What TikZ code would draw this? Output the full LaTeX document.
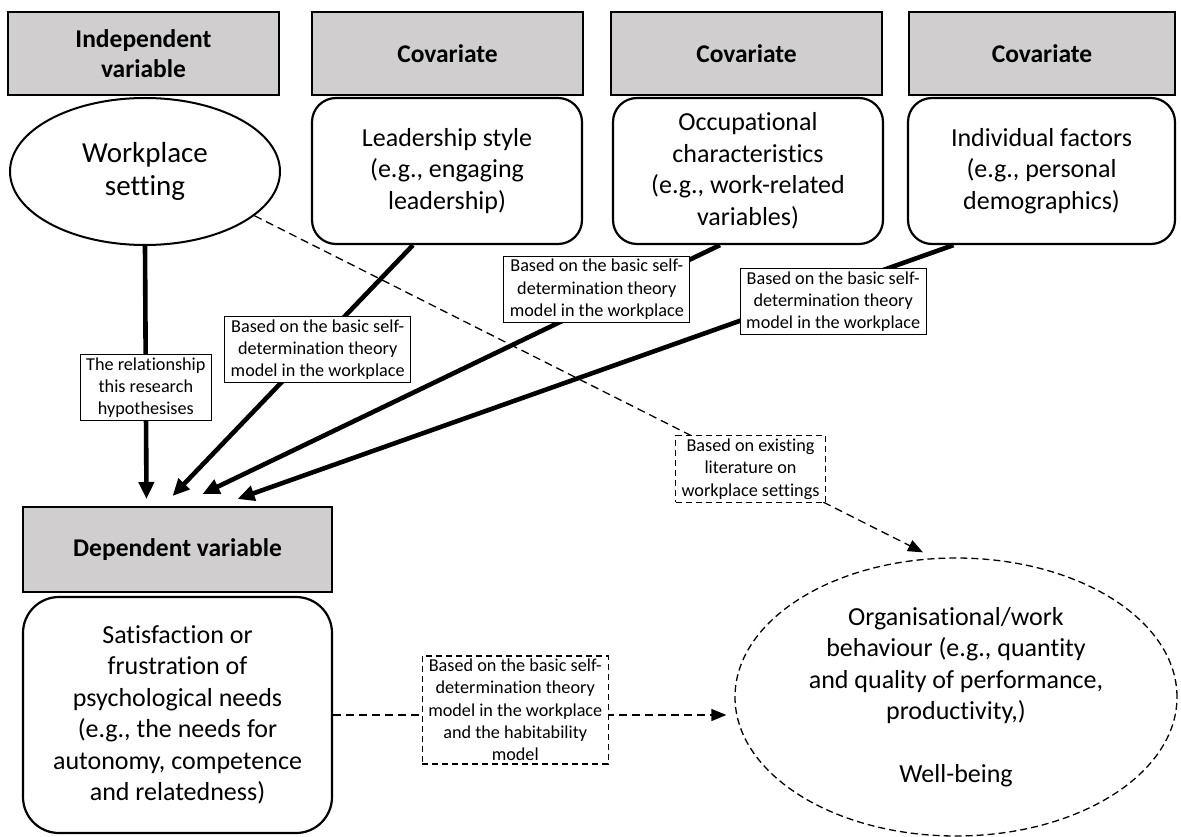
\documentclass[tikz,border=0pt]{standalone}
\usepackage{fontspec}
\setmainfont{Carlito}[RawFeature={-liga;-clig;-calt}]
\usepackage{xcolor}
\usepackage{tikz}
\usetikzlibrary{shapes.geometric,arrows.meta}
\definecolor{color_208206}{rgb}{0.815686,0.807843,0.807843}
\definecolor{color_0}{rgb}{0,0,0}
\definecolor{color_255}{rgb}{1,1,1}

\tikzset{
  hdrbox/.style={draw=color_0, line width=2pt, fill=color_208206, minimum height=83pt, inner sep=2pt, align=center, font=\fontsize{25.5}{30}\selectfont\bfseries},
  varbox/.style={draw=color_0, line width=2.2pt, rounded corners=24pt, minimum height=146pt, inner sep=2pt, align=center, font=\fontsize{26}{31.5}\selectfont},
  varell/.style={ellipse, draw=color_0, line width=2pt, inner sep=0pt, align=center},
  lblbox/.style={draw=color_0, line width=1.2pt, fill=color_255, align=center, inner xsep=6pt, inner ysep=3pt, font=\fontsize{18.2}{22.3}\selectfont},
  lbldash/.style={lblbox, dash pattern=on 6pt off 4pt},
  thickarrow/.style={line width=4.6pt, -{Triangle[length=17pt,width=15pt]}},
  dasharrow/.style={line width=1.3pt, dash pattern=on 8pt off 5pt, -{Triangle[length=15pt,width=12pt]}}
}

\begin{document}
\begin{tikzpicture}[x=1pt,y=-1pt]
	% cadre
	\useasboundingbox (0,0) rectangle (1181,837);
	
	% en-tetes gris
	\node[hdrbox, minimum width=271pt] (hdrind) at (143.5,53.5) {Independent\\variable};
	\node[hdrbox, minimum width=271pt] (hdrlead) at (447.5,53.5) {Covariate};
	\node[hdrbox, minimum width=271pt] (hdrocc) at (746.5,53.5) {Covariate};
	\node[hdrbox, minimum width=266pt] (hdrindiv) at (1042,53.5) {Covariate};
	\node[hdrbox, minimum width=309pt, minimum height=85pt] (hdrdep) at (177.5,549.5) {Dependent variable};
	
	% variables
	\node[varell, minimum width=270pt, minimum height=147pt, font=\fontsize{29}{33}\selectfont] (work) at (145,171.5) {Workplace\\setting};
	\node[varbox, minimum width=270pt] (lead) at (447,171) {Leadership style\\(e.g., engaging\\leadership)};
	\node[varbox, minimum width=270pt] (occ) at (748,171) {Occupational\\characteristics\\(e.g., work-related\\variables)};
	\node[varbox, minimum width=267pt] (indiv) at (1041.5,171) {Individual factors\\(e.g., personal\\demographics)};
	\node[varbox, minimum width=309pt, minimum height=236pt, rounded corners=36pt] (needs) at (177.5,715) {Satisfaction or\\frustration of\\psychological needs\\(e.g., the needs for\\autonomy, competence\\and relatedness)};
	\node[varell, line width=1.3pt, dash pattern=on 7pt off 4pt, minimum width=442pt, minimum height=278pt, font=\fontsize{26}{31.5}\selectfont] (behav) at (956,697) {Organisational/work\\behaviour (e.g., quantity\\and quality of performance,\\productivity,)\\[31.5pt]Well-being};
	
	% liens
	\draw[thickarrow] (work.south) -- ([xshift=-31pt,yshift=7pt]hdrdep.north)
		node[lblbox, pos=0.56] {The relationship\\this research\\hypothesises};
	\draw[thickarrow] ([xshift=-34pt]lead.south) -- ([xshift=-5pt,yshift=10pt]hdrdep.north)
		node[lblbox, pos=0.417, xshift=5pt] {Based on the basic self-\\determination theory\\model in the workplace};
	\draw[thickarrow] ([xshift=-28pt]occ.south) -- ([xshift=25pt,yshift=12pt]hdrdep.north)
		node[lblbox, pos=0.238, yshift=15pt] {Based on the basic self-\\determination theory\\model in the workplace};
	\draw[thickarrow] ([xshift=-88pt]indiv.south) -- ([xshift=60pt,yshift=7pt]hdrdep.north)
		node[lblbox, pos=0.168, yshift=-14pt] {Based on the basic self-\\determination theory\\model in the workplace};
	\draw[dasharrow] (work.-22) -- ([xshift=-33pt,yshift=5pt]behav.north)
		node[lbldash, pos=0.742, yshift=-3.5pt] {Based on existing\\literature on\\workplace settings};
	\draw[dasharrow, shorten >=8pt] (needs.east) -- (needs.east -| behav.west)
		node[lbldash, pos=0.454, yshift=5pt] {Based on the basic self-\\determination theory\\model in the workplace\\and the habitability\\model};
\end{tikzpicture}
\end{document}
